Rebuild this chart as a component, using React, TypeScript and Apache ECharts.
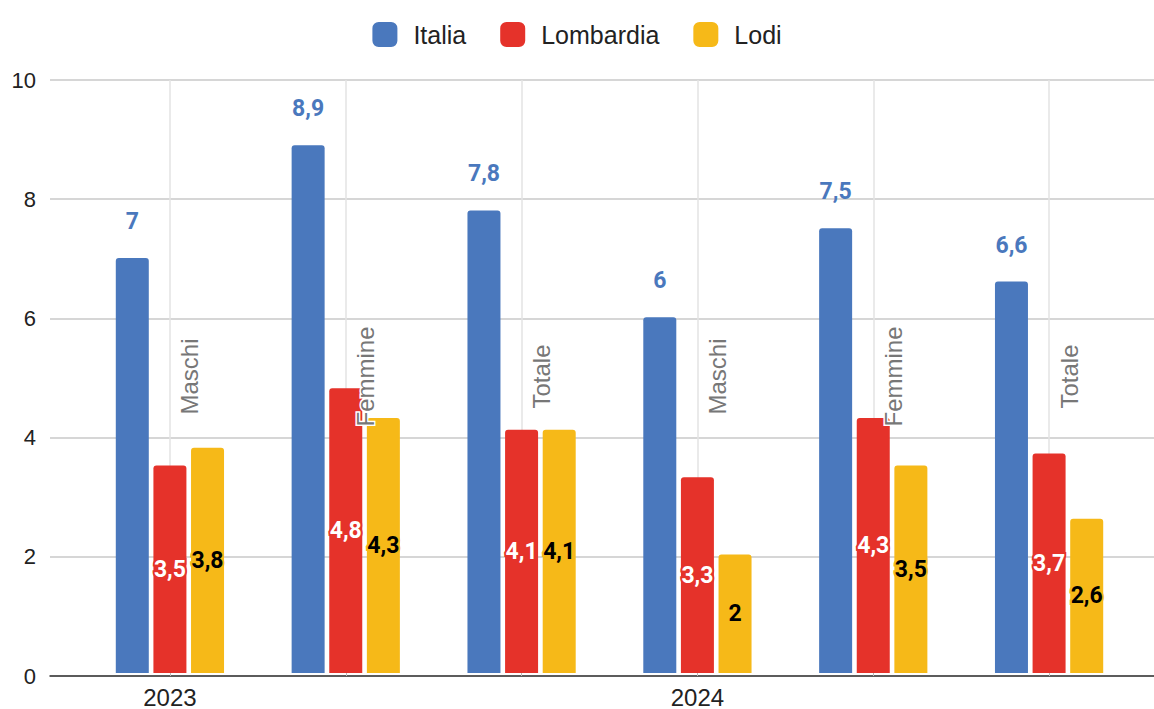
import React, { useEffect, useRef } from "react";
import * as echarts from "echarts";

const years = ["2023", "2023", "2023", "2024", "2024", "2024"];
const groups = ["Maschi", "Femmine", "Totale", "Maschi", "Femmine", "Totale"];
const seriesNames = ["Italia", "Lombardia", "Lodi"];
const italia = [7, 8.9, 7.8, 6, 7.5, 6.6];
const lombardia = [3.5, 4.8, 4.1, 3.3, 4.3, 3.7];
const lodi = [3.8, 4.3, 4.1, 2, 3.5, 2.6];
const yMin = 0;
const yMax = 10;
const yInterval = 2;

const BLUE = "#4a78bd";
const RED = "#e5322a";
const YELLOW = "#f6b918";
const SANS = "'Liberation Sans', Arial, sans-serif";
const LABEL_FONT = "Roboto, 'Liberation Sans', sans-serif";

const fmt = (v: number) => String(v).replace(".", ",");

export default function App() {
  const ref = useRef<HTMLDivElement>(null);

  useEffect(() => {
    if (!ref.current) return;
    const chart = echarts.init(ref.current, undefined, { renderer: "svg" });

    const barCommon = {
      type: "bar" as const,
      xAxisIndex: 1,
      yAxisIndex: 1,
      barWidth: 33,
      barGap: "14%",
      emphasis: { disabled: true },
    };

    const option: any = {
      animation: false,
      textStyle: { fontFamily: SANS },
      legend: {
        data: seriesNames,
        top: 17,
        left: "center",
        icon: "roundRect",
        itemWidth: 25,
        itemHeight: 25,
        itemGap: 34,
        textStyle: {
          fontSize: 25,
          color: "#222",
          fontFamily: SANS,
          padding: [0, 0, 0, 11],
        },
      },
      grid: [
        { left: 50, right: 0, top: 80, bottom: 33 },
        { left: 82, right: 17, top: 80, bottom: 33 },
      ],
      xAxis: [
        {
          gridIndex: 0,
          type: "category",
          data: [""],
          axisLine: { show: true, lineStyle: { color: "#333", width: 1.5 } },
          axisTick: { show: false },
          axisLabel: { show: false },
          splitLine: { show: false },
        },
        {
          gridIndex: 1,
          type: "category",
          data: groups,
          axisLine: { show: false },
          axisTick: {
            show: true,
            interval: 0,
            alignWithLabel: true,
            length: 3,
            lineStyle: { color: "#bbb" },
          },
          axisLabel: {
            interval: (idx: number) => idx % 3 === 0,
            formatter: (_v: string, idx: number) => years[idx],
            fontSize: 24,
            color: "#222",
            margin: 12,
            fontFamily: SANS,
          },
          splitLine: { show: false },
        },
      ],
      yAxis: [
        {
          gridIndex: 0,
          type: "value",
          min: yMin,
          max: yMax,
          interval: yInterval,
          axisLine: { show: false },
          axisTick: { show: false },
          axisLabel: { fontSize: 22, color: "#222", margin: 14, fontFamily: SANS },
          splitLine: { show: true, lineStyle: { color: "#c8c8c8", width: 1.5 } },
        },
        {
          gridIndex: 1,
          type: "value",
          min: yMin,
          max: yMax,
          interval: yInterval,
          show: false,
          splitLine: { show: false },
        },
      ],
      series: [
        {
          ...barCommon,
          name: seriesNames[0],
          data: italia,
          itemStyle: { color: BLUE, borderRadius: [3, 3, 0, 0] },
          label: {
            show: true,
            position: "top",
            distance: 25,
            formatter: (p: any) => fmt(p.value),
            color: BLUE,
            fontSize: 23,
            fontWeight: "bold",
            fontFamily: LABEL_FONT,
          },
        },
        {
          ...barCommon,
          name: seriesNames[1],
          data: lombardia,
          itemStyle: { color: RED, borderRadius: [3, 3, 0, 0] },
          label: {
            show: true,
            position: "inside",
            formatter: (p: any) => fmt(p.value),
            color: "#fff",
            textBorderColor: RED,
            textBorderWidth: 4,
            fontSize: 23,
            fontWeight: "bold",
            fontFamily: LABEL_FONT,
          },
          markLine: {
            silent: true,
            symbol: "none",
            z: 1,
            label: { show: false },
            lineStyle: { color: "#e3e3e3", width: 1.5, type: "solid" },
            data: groups.map((_g, i) => ({ xAxis: i })),
          },
        },
        {
          ...barCommon,
          name: seriesNames[2],
          data: lodi,
          itemStyle: { color: YELLOW, borderRadius: [3, 3, 0, 0] },
          label: {
            show: true,
            position: "inside",
            formatter: (p: any) => fmt(p.value),
            color: "#000",
            textBorderColor: YELLOW,
            textBorderWidth: 4,
            fontSize: 23,
            fontWeight: "bold",
            fontFamily: LABEL_FONT,
          },
        },
        {
          type: "line",
          name: "gruppi",
          xAxisIndex: 1,
          yAxisIndex: 1,
          data: [],
          silent: true,
          markLine: {
            silent: true,
            symbol: "none",
            z: 10,
            lineStyle: { color: "rgba(0,0,0,0)", width: 0, type: "solid" },
            label: {
              show: true,
              position: "insideMiddleBottom",
              distance: 8,
              formatter: "{b}",
              fontSize: 24,
              color: "#777",
              fontFamily: SANS,
              textBorderColor: "#fff",
              textBorderWidth: 3,
            },
            data: groups.map((g, i) => ({ xAxis: i, name: g })),
          },
        },
      ],
    };

    chart.setOption(option);
    return () => chart.dispose();
  }, []);

  return (
    <div
      ref={ref}
      style={{ position: "fixed", left: 0, top: 0, width: 1154, height: 709, background: "#fff" }}
    />
  );
}
